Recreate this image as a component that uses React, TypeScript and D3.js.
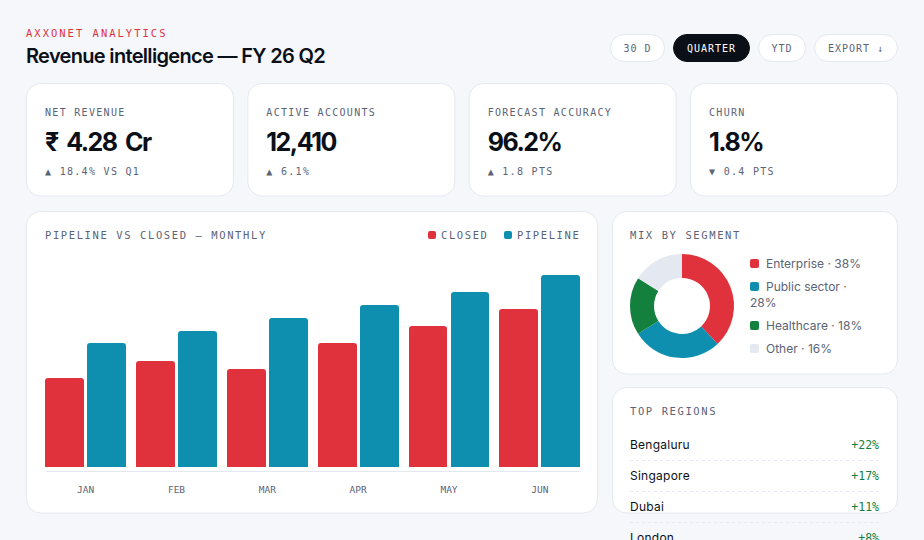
import React, { useEffect, useRef } from "react";
import * as d3 from "d3";

const months = ["JAN", "FEB", "MAR", "APR", "MAY", "JUN"];
const closed = [52, 62, 57, 72.5, 82, 92];
const pipeline = [72.5, 79.5, 87, 94.5, 102, 112];
const seriesNames = ["CLOSED", "PIPELINE"];

const kpiLabels = ["NET REVENUE", "ACTIVE ACCOUNTS", "FORECAST ACCURACY", "CHURN"];
const kpiValues = ["₹ 4.28 Cr", "12,410", "96.2%", "1.8%"];
const kpiDeltas = ["▲ 18.4% VS Q1", "▲ 6.1%", "▲ 1.8 PTS", "▼ 0.4 PTS"];

const segmentNames = ["Enterprise", "Public sector", "Healthcare", "Other"];
const segmentShares = [38, 28, 18, 16];

const regionNames = ["Bengaluru", "Singapore", "Dubai", "London"];
const regionGrowth = ["+22%", "+17%", "+11%", "+8%"];

const ranges = ["30 D", "QUARTER", "YTD", "EXPORT ↓"];

const RED = "#e0323c";
const BLUE = "#0e8fb0";
const GREEN = "#13803d";
const PALE = "#e4e8f0";
const INK = "#0b0f17";
const GREY = "#5b6476";
const LINE = "#e4e8f0";
const MONO = "'DejaVu Sans Mono', monospace";
const SANS = "Inter, sans-serif";

const Card = ({ x, y, w, h }: { x: number; y: number; w: number; h: number }) => (
  <rect x={x + 0.5} y={y + 0.5} width={w - 1} height={h - 1} rx={14} fill="#fff" stroke={LINE} />
);

const Mono = ({ x, y, size = 10, spacing = 1.3, fill = GREY, anchor = "start", children }: any) => (
  <text x={x} y={y} fontFamily={MONO} fontSize={size} letterSpacing={spacing} fill={fill} textAnchor={anchor}>
    {children}
  </text>
);

// rect with only the top corners rounded, edges snapped to pixels like the css bars
const topRounded = (left: number, right: number, top: number, bottom: number, r = 3) => {
  const [x0, x1, y0, y1] = [left, right, top, bottom].map(Math.round);
  const p = d3.path();
  p.moveTo(x0, y1);
  p.lineTo(x0, y0 + r);
  p.arcTo(x0, y0, x0 + r, y0, r);
  p.lineTo(x1 - r, y0);
  p.arcTo(x1, y0, x1, y0 + r, r);
  p.lineTo(x1, y1);
  p.closePath();
  return p.toString();
};

export default function App() {
  const axisRef = useRef<SVGGElement | null>(null);

  const x0 = d3.scaleBand<string>().domain(months).range([45.25, 580.25]).paddingInner(0.11);
  const x1 = d3.scaleBand<string>().domain(seriesNames).range([0, x0.bandwidth()]).paddingInner(0.072);
  const y = d3.scaleLinear().domain([0, 112]).range([467, 275]);

  const pie = d3.pie<number>().sort(null)(segmentShares);
  const arc = d3.arc<d3.PieArcDatum<number>>().innerRadius(28).outerRadius(52);
  const segmentColors = [RED, BLUE, GREEN, PALE];

  useEffect(() => {
    if (!axisRef.current) return;
    const g = d3.select(axisRef.current);
    g.selectAll("*").remove();
    g.call(d3.axisBottom(x0).tickSize(0).tickPadding(15) as any);
    g.select(".domain").attr("stroke", LINE);
    g.selectAll("text").attr("font-family", MONO).attr("font-size", 9.5).attr("fill", GREY);
  }, []);

  const kpiX = [26, 247.33, 468.67, 690];
  const rangeBoxes = [
    [610, 55],
    [673, 77],
    [758, 48],
    [814, 84],
  ];

  let legendY = 268;

  return (
    <svg width={924} height={540} style={{ position: "absolute", left: 0, top: 0, background: "#f5f7fb" }}>
      <Mono x={26} y={37} size={10.5} spacing={2} fill={RED}>AXXONET ANALYTICS</Mono>
      <text x={26} y={63} fontFamily={SANS} fontSize={20} fontWeight={600} letterSpacing={-0.68} fill={INK}>
        Revenue intelligence — FY 26 Q2
      </text>

      {ranges.map((r, i) => {
        const [bx, bw] = rangeBoxes[i];
        const active = r === "QUARTER";
        return (
          <g key={r}>
            <rect x={bx + 0.5} y={34.5} width={bw - 1} height={27} rx={13.5} fill={active ? INK : "#fff"} stroke={active ? INK : LINE} />
            <Mono x={bx + bw / 2} y={52} spacing={1} fill={active ? "#fff" : GREY} anchor="middle">{r}</Mono>
          </g>
        );
      })}

      {kpiLabels.map((label, i) => (
        <g key={label}>
          <Card x={kpiX[i]} y={83} w={208} h={113.5} />
          <Mono x={kpiX[i] + 19} y={116}>{label}</Mono>
          <text x={kpiX[i] + 19} y={151} fontFamily={SANS} fontSize={25} fontWeight={700} letterSpacing={-1.5} wordSpacing={4} fill={INK}>
            {kpiValues[i]}
          </text>
          <Mono x={kpiX[i] + 19} y={175}>{kpiDeltas[i]}</Mono>
        </g>
      ))}

      <Card x={26} y={211} w={572} h={302.5} />
      <Mono x={45} y={239} size={10.5} spacing={1.6}>PIPELINE VS CLOSED — MONTHLY</Mono>
      {seriesNames.map((name, i) => {
        const sx = [428, 504][i];
        return (
          <g key={name}>
            <rect x={sx} y={231} width={8} height={8} rx={2} fill={[RED, BLUE][i]} />
            <Mono x={sx + 13} y={239} size={10.5} spacing={1.6}>{name}</Mono>
          </g>
        );
      })}
      {months.map((m, i) => {
        const left = x0(m)!;
        const a = left + x1("CLOSED")!;
        const b = left + x1("PIPELINE")!;
        return (
          <g key={m}>
            <path d={topRounded(a, a + x1.bandwidth(), y(closed[i]), y(0))} fill={RED} />
            <path d={topRounded(b, b + x1.bandwidth(), y(pipeline[i]), y(0))} fill={BLUE} />
          </g>
        );
      })}
      <g ref={axisRef} transform="translate(0,471)" />

      <Card x={612} y={211} w={286} h={163.5} />
      <Mono x={630} y={239} size={10.5} spacing={1.6}>MIX BY SEGMENT</Mono>
      <g transform="translate(682,306)">
        {pie.map((d, i) => (
          <path key={segmentNames[i]} d={arc(d)!} fill={segmentColors[i]} />
        ))}
      </g>
      {segmentNames.map((name, i) => {
        const wraps = name.length > 12;
        const top = legendY;
        legendY += wraps ? 39 : 23;
        return (
          <g key={name} fontFamily={SANS} fontSize={12} fill={GREY}>
            <rect x={750} y={top - 9} width={9} height={9} rx={2} fill={segmentColors[i]} />
            <text x={766} y={top}>{wraps ? `${name} ·` : `${name} · ${segmentShares[i]}%`}</text>
            {wraps && <text x={750} y={top + 16}>{segmentShares[i]}%</text>}
          </g>
        );
      })}

      <Card x={612} y={387} w={286} h={126.5} />
      <Mono x={630} y={415} size={10.5} spacing={1.6}>TOP REGIONS</Mono>
      {regionNames.map((name, i) => (
        <g key={name}>
          <text x={630} y={449 + i * 31} fontFamily={SANS} fontSize={12} letterSpacing={0.25} fill={INK}>{name}</text>
          <Mono x={879} y={449 + i * 31} size={11.5} spacing={0} fill={GREEN} anchor="end">{regionGrowth[i]}</Mono>
          {i < 3 && <line x1={630} x2={879} y1={460.5 + i * 31} y2={460.5 + i * 31} stroke={LINE} strokeDasharray="3 3" />}
        </g>
      ))}
    </svg>
  );
}
